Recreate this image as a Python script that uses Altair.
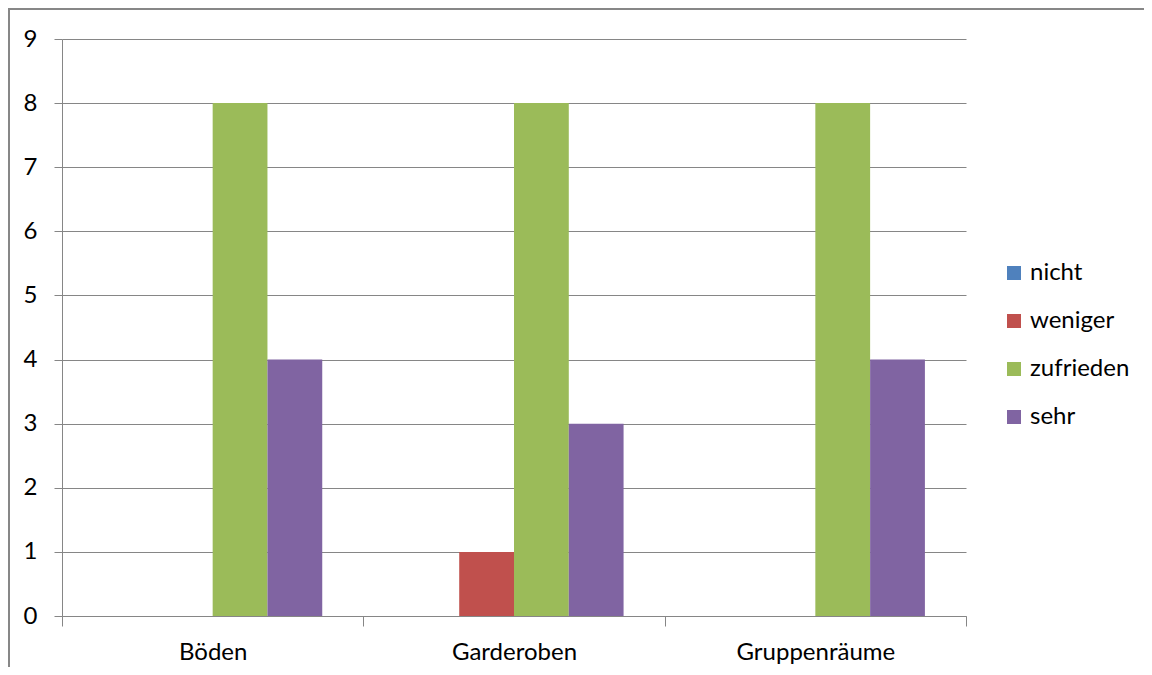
import altair as alt
import pandas as pd

categories = ["Böden", "Garderoben", "Gruppenräume"]
series = ["nicht", "weniger", "zufrieden", "sehr"]
colors = ["#4F81BD", "#C0504D", "#9BBB59", "#8064A2"]
nicht = [0, 0, 0]
weniger = [0, 1, 0]
zufrieden = [8, 8, 8]
sehr = [4, 3, 4]

values = {"nicht": nicht, "weniger": weniger, "zufrieden": zufrieden, "sehr": sehr}
rows = []
for s in series:
    for c, v in zip(categories, values[s]):
        rows.append({"Kategorie": c, "Bewertung": s, "Anzahl": v})
df = pd.DataFrame(rows)

FONT = "Lato"
FS = 24
GRID = "#868686"

bars = alt.Chart(df).mark_bar().encode(
    x=alt.X("Kategorie:N", sort=categories, title=None,
            scale=alt.Scale(paddingInner=0, paddingOuter=0),
            axis=alt.Axis(labelAngle=0, tickBand="extent", tickSize=10,
                          tickColor=GRID, domainColor=GRID, labelPadding=14,
                          labelFontSize=FS, labelFont=FONT, labelColor="#000000",
                          grid=False)),
    xOffset=alt.XOffset("Bewertung:N", sort=series,
                        scale=alt.Scale(paddingInner=0, paddingOuter=0.75)),
    y=alt.Y("Anzahl:Q", title=None,
            scale=alt.Scale(domain=[0, 9], nice=False),
            axis=alt.Axis(values=list(range(10)), tickSize=8, tickColor=GRID,
                          domainColor=GRID, gridColor=GRID, grid=True,
                          labelPadding=17, labelFontSize=FS, labelFont=FONT,
                          labelColor="#000000")),
    color=alt.Color("Bewertung:N", sort=series,
                    scale=alt.Scale(domain=series, range=colors),
                    legend=alt.Legend(title=None, orient="none", legendX=940,
                                      legendY=222, symbolType="square",
                                      symbolSize=196, symbolStrokeWidth=0,
                                      labelFontSize=FS, labelFont=FONT,
                                      labelColor="#000000", rowPadding=24,
                                      labelOffset=4)),
)

border = alt.Chart(pd.DataFrame({"a": [0]})).mark_rect(
    fillOpacity=0, stroke="#878787", strokeWidth=2).encode(
    x=alt.value(-53), x2=alt.value(1150), y=alt.value(-30), y2=alt.value(700))

chart = alt.layer(border, bars).properties(
    width=904, height=577,
    padding={"left": 54, "top": 31, "right": 178, "bottom": 51},
    autosize=alt.AutoSizeParams(type="none"),
).configure_view(stroke=None).configure_axis(domainWidth=1, gridWidth=1, tickWidth=1)

chart.save("out.html", embed_options={"renderer": "svg", "actions": False})
